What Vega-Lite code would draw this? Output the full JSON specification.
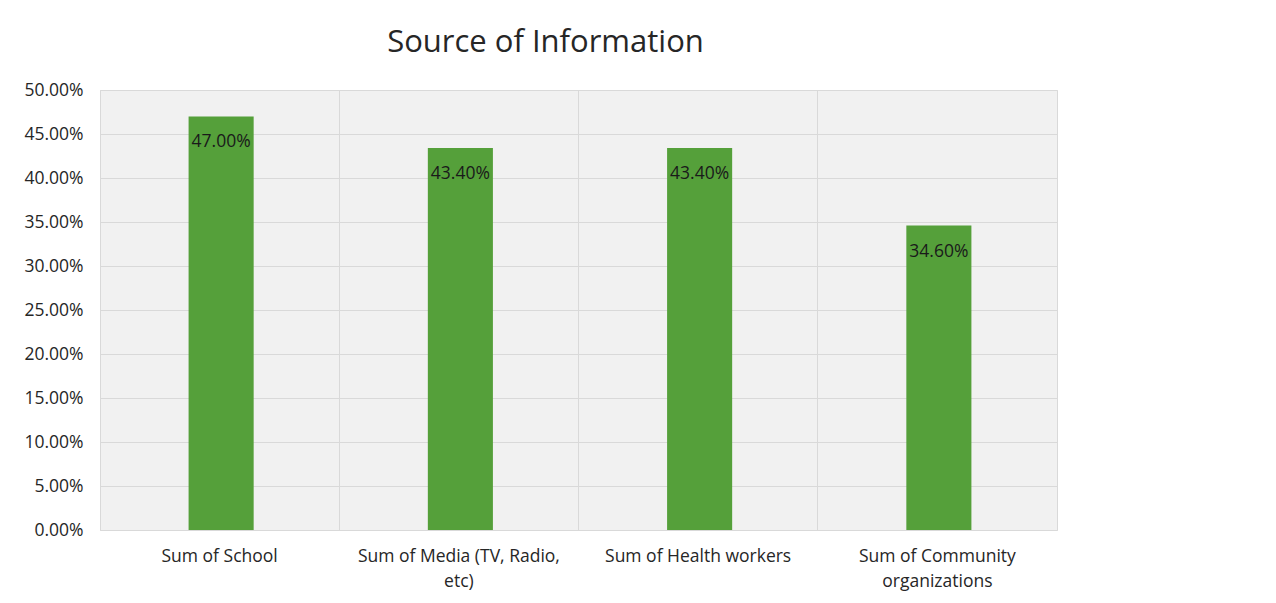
{
  "$schema": "https://vega.github.io/schema/vega-lite/v6.json",
  "autosize": {"type": "none"},
  "width": 957,
  "height": 440,
  "padding": {"left": 100, "top": 90, "right": 219, "bottom": 73},
  "background": "white",
  "config": {
    "font": "Open Sans",
    "view": {"stroke": "#d9d9d9", "strokeWidth": 1, "fill": "#f1f1f1"}
  },
  "title": {
    "text": "Source of Information",
    "fontSize": 31,
    "fontWeight": "normal",
    "color": "#262626",
    "anchor": "middle",
    "frame": "group",
    "dx": -33,
    "offset": 22
  },
  "data": {
    "values": [
      {"source": "Sum of School", "value": 0.47},
      {"source": "Sum of Media (TV, Radio,|etc)", "value": 0.434},
      {"source": "Sum of Health workers", "value": 0.434},
      {"source": "Sum of Community|organizations", "value": 0.346}
    ]
  },
  "encoding": {
    "x": {
      "field": "source",
      "type": "nominal",
      "sort": null,
      "scale": {"paddingInner": 0, "paddingOuter": 0},
      "axis": {
        "title": null,
        "labelAngle": 0,
        "labelExpr": "split(datum.label, '|')",
        "labelFontSize": 17.5,
        "labelColor": "#262626",
        "labelPadding": 17,
        "labelLineHeight": 25,
        "labelLimit": 0,
        "ticks": false,
        "domain": false,
        "grid": true,
        "gridColor": "#d9d9d9",
        "bandPosition": 0
      }
    },
    "y": {
      "field": "value",
      "type": "quantitative",
      "scale": {"domain": [0, 0.5]},
      "axis": {
        "title": null,
        "format": ".2%",
        "values": [0, 0.05, 0.1, 0.15, 0.2, 0.25, 0.3, 0.35, 0.4, 0.45, 0.5],
        "labelFontSize": 17.5,
        "labelColor": "#262626",
        "labelPadding": 17,
        "ticks": false,
        "domain": false,
        "gridColor": "#d9d9d9"
      }
    }
  },
  "layer": [
    {
      "mark": {"type": "bar", "color": "#55A03A", "width": {"band": 0.272}, "xOffset": 1.5}
    },
    {
      "mark": {"type": "text", "baseline": "top", "dy": 17, "xOffset": 1.5, "fontSize": 17.5, "color": "#1a1a1a"},
      "encoding": {
        "text": {"field": "value", "type": "quantitative", "format": ".2%"}
      }
    }
  ]
}
